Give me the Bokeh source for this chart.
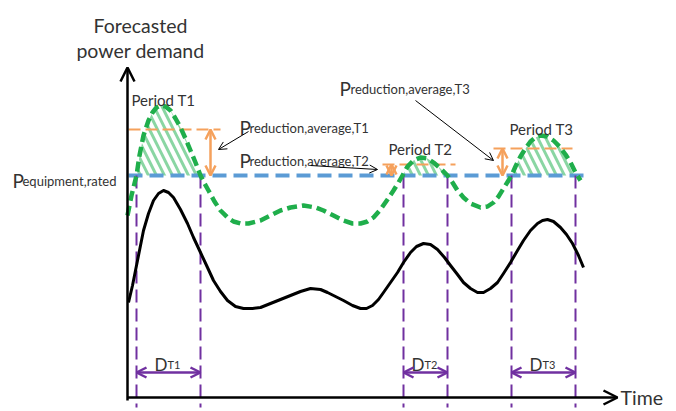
import numpy as np
from bokeh.plotting import figure
from bokeh.models import Range1d, Arrow, OpenHead
from bokeh.core.properties import value
from bokeh.embed import file_html
from bokeh.resources import INLINE

# ---- data (time units, demand units) ----
green_t = [0, 4, 9, 12, 16, 21, 25, 29, 33, 38, 43, 48, 53, 58, 63, 68, 73, 77, 81, 87, 93, 100, 106, 113,
           121, 133, 143, 153, 163, 176, 188, 196, 206, 216, 225, 233, 240, 246, 253, 260, 266, 271, 275,
           280, 286, 293, 300, 306, 313, 320, 325, 330, 336, 343, 353, 360, 366, 371, 376, 381, 384, 388,
           393, 398, 403, 408, 413, 420, 426, 432, 438, 443, 448, 453]
green_d = [182, 202, 222, 242, 262, 277, 285, 290, 292, 291, 287, 279, 270, 259, 247, 235, 222, 214, 207, 196,
           187, 180, 176, 174, 174, 177, 182, 187, 190, 192, 190, 187, 182, 177, 174, 174, 176, 180, 188,
           198, 207, 215, 222, 231, 237, 240, 239, 235, 229, 222, 215, 207, 200, 194, 190, 191, 195, 201,
           209, 217, 222, 231, 241, 249, 256, 260, 262, 261, 257, 251, 243, 235, 225, 217]

black_t = [1, 5, 8, 12, 16, 21, 26, 31, 36, 41, 46, 53, 60, 66, 73, 80, 86, 93, 100, 108, 116, 125, 133,
           143, 153, 163, 173, 183, 193, 200, 208, 216, 225, 233, 239, 245, 251, 256, 263, 270, 276, 283,
           289, 296, 303, 310, 317, 323, 330, 336, 343, 350, 356, 363, 370, 376, 383, 390, 396, 403, 410,
           415, 420, 426, 433, 439, 445, 451, 456]
black_d = [95, 112, 127, 147, 167, 184, 197, 204, 207, 205, 200, 188, 174, 160, 145, 130, 117, 106, 97, 91,
           89, 89, 90, 94, 98, 102, 106, 109, 108, 105, 101, 97, 92, 89, 89, 92, 98, 105, 115, 125, 135,
           145, 151, 154, 153, 148, 140, 132, 123, 115, 109, 105, 105, 109, 115, 124, 135, 147, 157, 167,
           174, 177, 178, 176, 170, 163, 154, 142, 130]

rated_level = 222
period_names = ["T1", "T2", "T3"]
period_start = [9, 276, 384]
period_end = [73, 320, 448]
avg_level = [268, 233, 249]

# ---- colours / styles ----
GREEN = "#1fae4b"
BLUE = "#5b9bd5"
ORANGE = "#f5a15c"
PURPLE = "#7030a0"
TEXT = "#333333"
FONT = value("Lato")

p = figure(width=668, height=411, x_range=Range1d(-127, 541), y_range=Range1d(-14, 397),
           output_backend="svg", toolbar_location=None, x_axis_type=None, y_axis_type=None,
           min_border=0)
p.outline_line_color = None
p.background_fill_color = "white"
p.border_fill_color = "white"

gt = np.array(green_t, dtype=float)
gd = np.array(green_d, dtype=float)

# hatched excess area
p.varea(x=gt, y1=np.full_like(gt, rated_level), y2=np.maximum(gd, rated_level),
        fill_color="white", fill_alpha=0.0, hatch_pattern="\\", hatch_color="#4cc072",
        hatch_alpha=0.65, hatch_weight=3, hatch_scale=16)

# orange average lines
orange_x0 = [1, 255, 366]
orange_x1 = [93, 328, 445]
p.segment(x0=orange_x0, y0=avg_level, x1=orange_x1, y1=avg_level,
          line_color=ORANGE, line_width=2, line_dash="12 5")

# blue rated line
p.line(x=[1, 456], y=[rated_level, rated_level], line_color=BLUE, line_width=4, line_dash="14 7")

# purple vertical lines
bounds = period_start + period_end
p.segment(x0=bounds, y0=[rated_level] * 6, x1=bounds, y1=[-10] * 6,
          line_color=PURPLE, line_width=2, line_dash="13 6")

# black forecast curve
p.line(x=black_t, y=black_d, line_color="black", line_width=3, line_join="round")

# green dashed curve
p.line(x=gt, y=gd, line_color=GREEN, line_width=4.5, line_dash="10 5", line_join="round")

# orange double arrows
orange_arrow_t = [83, 264, 375]
for xa, lv in zip(orange_arrow_t, avg_level):
    p.add_layout(Arrow(x_start=xa, y_start=rated_level, x_end=xa, y_end=lv,
                       line_color=ORANGE, line_width=2.5,
                       start=OpenHead(size=10, line_color=ORANGE, line_width=2.5),
                       end=OpenHead(size=10, line_color=ORANGE, line_width=2.5)))

# purple duration arrows
for s, e in zip(period_start, period_end):
    p.add_layout(Arrow(x_start=s, y_start=25, x_end=e, y_end=25,
                       line_color=PURPLE, line_width=2.5,
                       start=OpenHead(size=10, line_color=PURPLE, line_width=2.5),
                       end=OpenHead(size=10, line_color=PURPLE, line_width=2.5)))

# thin black pointer arrows
ptr = [(121, 266, 91, 248), (183, 232, 250, 228), (288, 297, 366, 237)]
for x0, y0, x1, y1 in ptr:
    p.add_layout(Arrow(x_start=x0, y_start=y0, x_end=x1, y_end=y1, line_color="black", line_width=1,
                       end=OpenHead(size=8, line_color="black", line_width=1)))

# axes
p.add_layout(Arrow(x_start=0, y_start=-3, x_end=0, y_end=330, line_color="black", line_width=2.5,
                   end=OpenHead(size=14, line_color="black", line_width=2.5)))
p.add_layout(Arrow(x_start=0, y_start=0, x_end=490, y_end=0, line_color="black", line_width=2.5,
                   end=OpenHead(size=14, line_color="black", line_width=2.5)))

# texts
p.text(x=[13, 13], y=[372, 347], text=["Forecasted", "power demand"], text_font=FONT,
       text_font_size="19.5px", text_color=TEXT, text_align="center", text_baseline="alphabetic")
p.text(x=[493], y=[0], text=["Time"], text_font=FONT, text_font_size="19.5px", text_color=TEXT,
       text_align="left", text_baseline="middle")
p.text(x=[4, 261, 382], y=[298, 249, 269], text=["Period " + n for n in period_names], text_font=FONT,
       text_font_size="15px", text_color=TEXT, text_align="left", text_baseline="alphabetic")

# big P with subscripts
p.text(x=[-115, 112, 112, 212], y=[217, 270, 237, 309], text=["P", "P", "P", "P"], text_font=FONT,
       text_font_size="19px", text_color=TEXT, text_align="left", text_baseline="alphabetic")
p.text(x=[-105, 122, 122, 223], y=[217, 270, 237, 309],
       text=["equipment,rated", "reduction,average,T1", "reduction,average,T2", "reduction,average,T3"],
       text_font=FONT, text_font_size="13px", text_color=TEXT, text_align="left",
       text_baseline="alphabetic")

# duration labels
centers = [(s + e) / 2 for s, e in zip(period_start, period_end)]
p.text(x=[c - 14 for c in centers], y=[33] * 3, text=["D"] * 3, text_font=FONT, text_font_size="17px",
       text_color=TEXT, text_align="left", text_baseline="alphabetic")
p.text(x=[c - 1 for c in centers], y=[33] * 3, text=period_names, text_font=FONT, text_font_size="11px",
       text_color=TEXT, text_align="left", text_baseline="alphabetic")

open("out.html", "w").write(file_html(p, INLINE))
